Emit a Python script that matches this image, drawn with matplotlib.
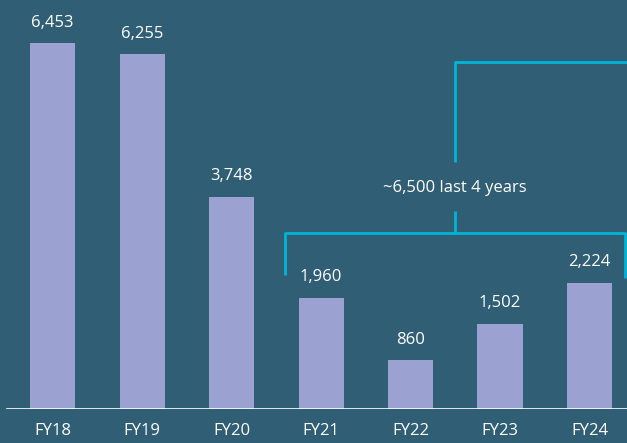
import matplotlib
matplotlib.use("Agg")
import matplotlib.pyplot as plt

years = ["FY18", "FY19", "FY20", "FY21", "FY22", "FY23", "FY24"]
values = [6453, 6255, 3748, 1960, 860, 1502, 2224]
note = "~6,500 last 4 years"

bg = "#305e74"
bar_col = "#9ba2d1"
cyan = "#00b5d8"

plt.rcParams["font.family"] = ["Open Sans", "DejaVu Sans"]

fig = plt.figure(figsize=(6.27, 4.43), dpi=100, facecolor=bg)
ax = fig.add_axes([0, 34 / 443, 1, 409 / 443])
ax.set_facecolor(bg)

x = list(range(len(years)))
ax.bar(x, values, width=0.503, color=bar_col, zorder=2)
ax.set_xlim(-0.587, 6.419)
ax.set_ylim(0, 7215)

for xi, v in zip(x, values):
    ax.annotate(f"{v:,}", (xi, v), xytext=(0, 9), textcoords="offset points",
                ha="center", va="bottom", color="white", fontsize=12)

ax.axhline(0, xmin=7 / 627, xmax=1, color="white", lw=1.2, zorder=3)

ax.set_xticks(x)
ax.set_xticklabels(years, color="white", fontsize=12)
ax.tick_params(axis="x", length=0, pad=10)
ax.set_yticks([])
for s in ax.spines.values():
    s.set_visible(False)

# bracket over the last four years
kw = dict(color=cyan, lw=2, clip_on=False, solid_capstyle="butt")
ax.plot([2.598, 2.598, 6.397, 6.397], [2364, 3105, 3105, 2311], **kw)
ax.plot([4.497, 4.497], [3105, 3493], **kw)
ax.plot([4.497, 4.497, 6.6], [4357, 6121, 6121], **kw)
ax.text(4.497, 3898, note, ha="center", va="center", color="white", fontsize=12)

fig.savefig("out.png", dpi=100, facecolor=bg)
